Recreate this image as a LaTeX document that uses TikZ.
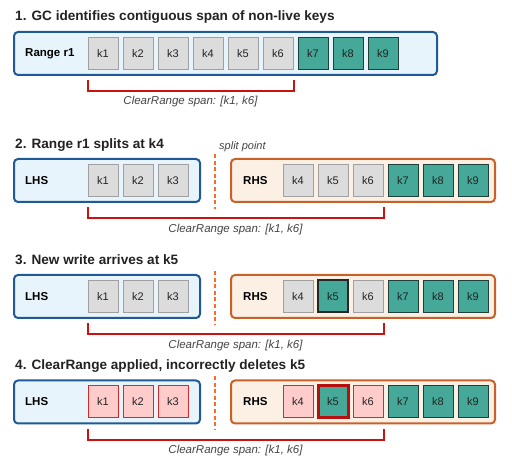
\documentclass[tikz,border=0pt]{standalone}
\usepackage{fontspec}
\setmainfont{Liberation Sans}
\usetikzlibrary{calc}
\definecolor{bluebd}{HTML}{1F5A96}
\definecolor{bluefill}{HTML}{E7F4FB}
\definecolor{orbd}{HTML}{C8602A}
\definecolor{orfill}{HTML}{FCF0E5}
\definecolor{splitc}{HTML}{FF6A2A}
\definecolor{greyfill}{HTML}{DCDCDC}
\definecolor{greybd}{HTML}{A0A0A0}
\definecolor{tealfill}{HTML}{45A898}
\definecolor{tealbd}{HTML}{1E3F3A}
\definecolor{redfill}{HTML}{FFCCCC}
\definecolor{redbd}{HTML}{D42A2A}
\definecolor{brkc}{HTML}{CC1111}
\definecolor{txt}{HTML}{222222}
\definecolor{captxt}{HTML}{444444}
\tikzset{
  lbox/.style={draw=bluebd, fill=bluefill, line width=2pt, rounded corners=4pt, minimum height=43pt, inner sep=0pt},
  rbox/.style={draw=orbd, fill=orfill, line width=2pt, rounded corners=4pt, minimum height=43pt, inner sep=0pt},
  key/.style={minimum width=30pt, minimum height=32pt, inner sep=0pt, font=\fontsize{11}{13}\selectfont, text=txt, line width=1pt},
  dead/.style={key, draw=greybd, fill=greyfill},
  live/.style={key, draw=tealbd, fill=tealfill},
  newlive/.style={key, draw=black!85, fill=tealfill, line width=2pt},
  gone/.style={key, draw=redbd, fill=redfill},
  hitlive/.style={key, draw=brkc!90!black, fill=tealfill, line width=3pt},
  title/.style={anchor=base west, inner sep=0pt, font=\bfseries\fontsize{13.6}{16}\selectfont, text=txt},
  blab/.style={anchor=west, inner sep=0pt, font=\bfseries\fontsize{11.5}{13}\selectfont, text=black},
  brk/.style={draw=brkc, line width=2pt},
  captext/.style={inner sep=0pt, font=\itshape\fontsize{11.5}{13}\selectfont, text=captxt},
  splitline/.style={draw=splitc, line width=2.8pt, dash pattern=on 4pt off 2.6pt},
}
\begin{document}
\begin{tikzpicture}[x=1pt,y=-1pt]
\useasboundingbox (0,0) rectangle (512,470);
% ---------- Panel 1 ----------
\node[title] (t1) at (15,21) {1. GC identifies contiguous span of non-live keys};
\node[lbox, minimum width=423pt] (r1) at (225.5,53.5) {};
\node[blab] (r1l) at (25,53.5) {Range r1};
\foreach \i/\s in {1/dead,2/dead,3/dead,4/dead,5/dead,6/dead,7/live,8/live,9/live}{
  \node[\s] (a\i) at ({103+35*(\i-1)},53.5) {k\i};
}
\coordinate (a1b) at ([yshift=-10.5pt]a1.south west);
\coordinate (a6b) at ([yshift=-10.5pt]a6.south east);
\draw[brk] (a1b) -- ++(0,11) -| (a6b);
\node[captext] (c1t) at ($(a1b)!0.5!(a6b)+(0,21)$) {ClearRange span: [k1, k6]};
% ---------- Panel 2 ----------
\node[title] (t2) at (15,149) {2. Range r1 splits at k4};
\node[lbox, minimum width=186pt] (l2) at (107,180.5) {};
\node[rbox, minimum width=264pt] (rr2) at (363,180.5) {};
\node[blab] (l2l) at (25,180.5) {LHS};
\node[blab] (rr2l) at (243,180.5) {RHS};
\foreach \i/\s in {1/dead,2/dead,3/dead}{
  \node[\s] (b\i) at ({103+35*(\i-1)},180.5) {k\i};
}
\foreach \i/\s in {4/dead,5/dead,6/dead,7/live,8/live,9/live}{
  \node[\s] (b\i) at ({298+35*(\i-4)},180.5) {k\i};
}
\coordinate (s2a) at (215,154);
\coordinate (s2b) at (215,209);
\draw[splitline] (s2a) -- (s2b);
\node[captext, anchor=base west, font=\itshape\fontsize{11}{13}\selectfont] (sp) at (219,150) {split point};
\coordinate (b1b) at ([yshift=-10.5pt]b1.south west);
\coordinate (b6b) at ([yshift=-10.5pt]b6.south east);
\draw[brk] (b1b) -- ++(0,11) -| (b6b);
\node[captext] (c2t) at ($(b1b)!0.5!(b6b)+(0,22)$) {ClearRange span: [k1, k6]};
% ---------- Panel 3 ----------
\node[title] (t3) at (15,265) {3. New write arrives at k5};
\node[lbox, minimum width=186pt] (l3) at (107,296.5) {};
\node[rbox, minimum width=264pt] (rr3) at (363,296.5) {};
\node[blab] (l3l) at (25,296.5) {LHS};
\node[blab] (rr3l) at (243,296.5) {RHS};
\foreach \i/\s in {1/dead,2/dead,3/dead}{
  \node[\s] (c\i) at ({103+35*(\i-1)},296.5) {k\i};
}
\foreach \i/\s in {4/dead,5/newlive,6/dead,7/live,8/live,9/live}{
  \node[\s] (c\i) at ({298+35*(\i-4)},296.5) {k\i};
}
\coordinate (s3a) at (215,271);
\coordinate (s3b) at (215,325);
\draw[splitline] (s3a) -- (s3b);
\coordinate (c1b) at ([yshift=-10.5pt]c1.south west);
\coordinate (c6b) at ([yshift=-10.5pt]c6.south east);
\draw[brk] (c1b) -- ++(0,11) -| (c6b);
\node[captext] (c3t) at ($(c1b)!0.5!(c6b)+(0,22)$) {ClearRange span: [k1, k6]};
% ---------- Panel 4 ----------
\node[title] (t4) at (15,370) {4. ClearRange applied, incorrectly deletes k5};
\node[lbox, minimum width=186pt] (l4) at (107,402) {};
\node[rbox, minimum width=264pt] (rr4) at (363,402) {};
\node[blab] (l4l) at (25,402) {LHS};
\node[blab] (rr4l) at (243,402) {RHS};
\foreach \i/\s in {1/gone,2/gone,3/gone}{
  \node[\s] (d\i) at ({103+35*(\i-1)},402) {k\i};
}
\foreach \i/\s in {4/gone,5/hitlive,6/gone,7/live,8/live,9/live}{
  \node[\s] (d\i) at ({298+35*(\i-4)},402) {k\i};
}
\coordinate (s4a) at (215,376);
\coordinate (s4b) at (215,430);
\draw[splitline] (s4a) -- (s4b);
\coordinate (d1b) at ([yshift=-10.5pt]d1.south west);
\coordinate (d6b) at ([yshift=-10.5pt]d6.south east);
\draw[brk] (d1b) -- ++(0,11) -| (d6b);
\node[captext] (c4t) at ($(d1b)!0.5!(d6b)+(0,22)$) {ClearRange span: [k1, k6]};
\end{tikzpicture}
\end{document}
